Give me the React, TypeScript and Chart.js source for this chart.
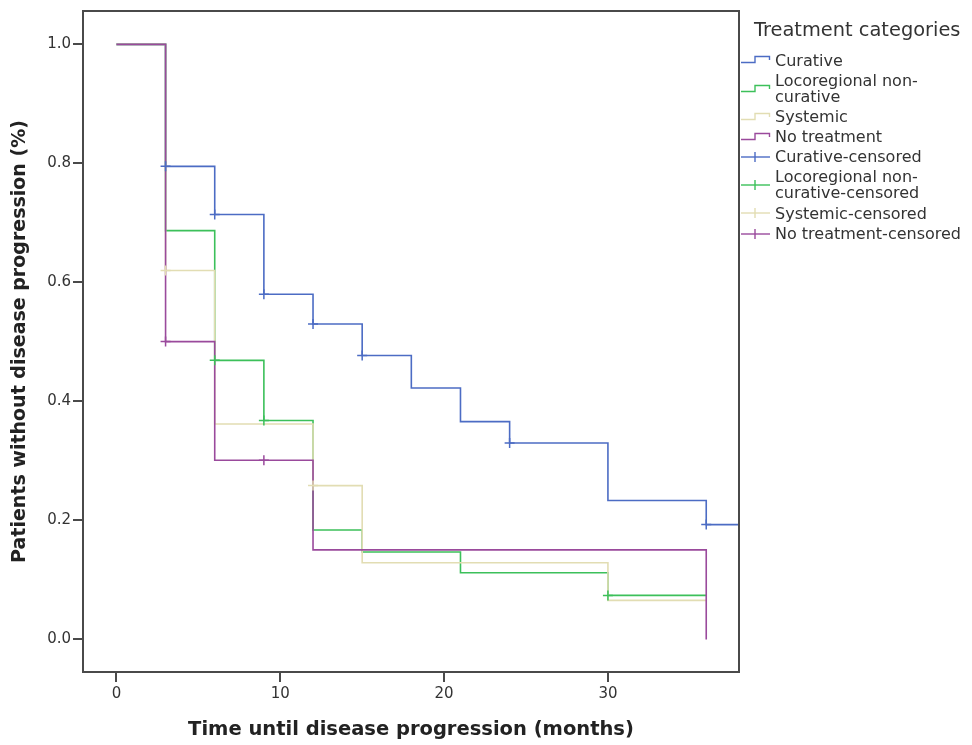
import React, { useEffect, useRef } from "react";
import { Chart, registerables } from "chart.js";

Chart.register(...registerables);

const X_TICKS = [0, 10, 20, 30];
const Y_TICKS = [0, 0.2, 0.4, 0.6, 0.8, 1.0];
const X_MIN = -2.04;
const X_MAX = 38;
const Y_MIN = -0.0547;
const Y_MAX = 1.056;

// Kaplan-Meier step curves (time in months, survival proportion)
const CURATIVE_T = [0, 3, 6, 9, 12, 15, 18, 21, 24, 30, 36, 38];
const CURATIVE_S = [1, 0.795, 0.714, 0.58, 0.53, 0.477, 0.4225, 0.366, 0.33, 0.2335, 0.193, 0.193];
const CURATIVE_CENS_T = [3, 6, 9, 12, 15, 24, 36];
const CURATIVE_CENS_S = [0.795, 0.714, 0.58, 0.53, 0.477, 0.33, 0.193];

const LOCO_T = [0, 3, 6, 9, 12, 15, 21, 30, 36];
const LOCO_S = [1, 0.687, 0.469, 0.368, 0.184, 0.147, 0.112, 0.074, 0.074];
const LOCO_CENS_T = [6, 9, 30];
const LOCO_CENS_S = [0.469, 0.368, 0.074];

const SYSTEMIC_T = [0, 3, 6, 12, 15, 30, 36];
const SYSTEMIC_S = [1, 0.62, 0.362, 0.2585, 0.129, 0.0657, 0.0657];
const SYSTEMIC_CENS_T = [3, 12];
const SYSTEMIC_CENS_S = [0.62, 0.2585];

const NOTREAT_T = [0, 3, 6, 12, 36, 36];
const NOTREAT_S = [1, 0.5005, 0.301, 0.1505, 0.1505, 0];
const NOTREAT_CENS_T = [3, 9];
const NOTREAT_CENS_S = [0.5005, 0.301];

const SERIES_NAMES = ["Curative", "Locoregional non-curative", "Systemic", "No treatment"];
const SERIES_COLORS = ["#4c6cc4", "#3cc05a", "#e2ddb3", "#9a4a9c"];

const LEGEND_TITLE = "Treatment categories";
const LEGEND_LINES = [
  ["Curative"],
  ["Locoregional non-", "curative"],
  ["Systemic"],
  ["No treatment"],
  ["Curative-censored"],
  ["Locoregional non-", "curative-censored"],
  ["Systemic-censored"],
  ["No treatment-censored"],
];

const X_TITLE = "Time until disease progression (months)";
const Y_TITLE = "Patients without disease progression (%)";

const FONT = "'DejaVu Sans', sans-serif";
const TEXT_COLOR = "#333";

function toPoints(t: number[], s: number[]) {
  return t.map((x, i) => ({ x, y: s[i] }));
}

const frame = {
  id: "frame",
  afterDraw(chart: any) {
    const { ctx, chartArea } = chart;
    ctx.save();
    ctx.strokeStyle = "#4a4a4a";
    ctx.lineWidth = 2;
    ctx.strokeRect(chartArea.left, chartArea.top, chartArea.right - chartArea.left, chartArea.bottom - chartArea.top);
    ctx.restore();
  },
};

function StepIcon({ color, censored }: { color: string; censored: boolean }) {
  return (
    <svg width={31} height={12} style={{ flex: "0 0 auto", display: "block" }}>
      {censored ? (
        <g stroke={color} strokeWidth={1.4} fill="none">
          <line x1={1} y1={6} x2={30} y2={6} />
          <line x1={15} y1={1} x2={15} y2={11} />
        </g>
      ) : (
        <path d="M1,8.5 H15 V2.5 H29.5 V6" stroke={color} strokeWidth={1.4} fill="none" />
      )}
    </svg>
  );
}

export default function App() {
  const canvasRef = useRef<HTMLCanvasElement | null>(null);

  useEffect(() => {
    if (!canvasRef.current) return;
    const lines = [
      toPoints(CURATIVE_T, CURATIVE_S),
      toPoints(LOCO_T, LOCO_S),
      toPoints(SYSTEMIC_T, SYSTEMIC_S),
      toPoints(NOTREAT_T, NOTREAT_S),
    ];
    const cens = [
      toPoints(CURATIVE_CENS_T, CURATIVE_CENS_S),
      toPoints(LOCO_CENS_T, LOCO_CENS_S),
      toPoints(SYSTEMIC_CENS_T, SYSTEMIC_CENS_S),
      toPoints(NOTREAT_CENS_T, NOTREAT_CENS_S),
    ];
    const datasets: any[] = [];
    lines.forEach((d, i) => {
      datasets.push({
        label: SERIES_NAMES[i],
        data: d,
        borderColor: SERIES_COLORS[i],
        borderWidth: 1.6,
        stepped: "before",
        pointRadius: 0,
        fill: false,
        order: 10 - i,
      });
    });
    cens.forEach((d, i) => {
      datasets.push({
        label: SERIES_NAMES[i] + "-censored",
        data: d,
        borderColor: SERIES_COLORS[i],
        backgroundColor: SERIES_COLORS[i],
        showLine: false,
        pointStyle: "cross",
        pointRadius: 5,
        pointBorderWidth: 1.5,
        order: 4 - i,
      });
    });

    const chart = new Chart(canvasRef.current, {
      type: "line",
      data: { datasets },
      plugins: [frame],
      options: {
        animation: false,
        responsive: false,
        layout: { padding: { left: 0, top: 7, right: 233, bottom: 0 } },
        plugins: { legend: { display: false }, tooltip: { enabled: false } },
        scales: {
          x: {
            type: "linear",
            min: X_MIN,
            max: X_MAX,
            afterBuildTicks: (s: any) => {
              s.ticks = X_TICKS.map((v) => ({ value: v }));
            },
            afterFit: (s: any) => {
              s.height = 73;
            },
            border: { display: false },
            grid: { drawOnChartArea: false, drawTicks: true, tickLength: 10, color: "#4a4a4a", lineWidth: 2 },
            ticks: { color: TEXT_COLOR, font: { family: FONT, size: 15 }, padding: 3, maxRotation: 0, autoSkip: false },
            title: {
              display: true,
              text: X_TITLE,
              color: "#222",
              font: { family: FONT, size: 19.5, weight: "bold" },
              padding: { top: 0, bottom: 3.5 },
            },
          },
          y: {
            type: "linear",
            min: Y_MIN,
            max: Y_MAX,
            afterBuildTicks: (s: any) => {
              s.ticks = Y_TICKS.map((v) => ({ value: v }));
            },
            afterFit: (s: any) => {
              s.width = 83;
            },
            border: { display: false },
            grid: { drawOnChartArea: false, drawTicks: true, tickLength: 10, color: "#4a4a4a", lineWidth: 2 },
            ticks: {
              color: TEXT_COLOR,
              font: { family: FONT, size: 15 },
              padding: 2,
              autoSkip: false,
              callback: (v: any) => Number(v).toFixed(1),
            },
            title: {
              display: true,
              text: Y_TITLE,
              color: "#222",
              font: { family: FONT, size: 19, weight: "bold" },
              padding: { top: 8.5, bottom: 0 },
            },
          },
        },
      } as any,
    });
    return () => chart.destroy();
  }, []);

  return (
    <div style={{ position: "fixed", left: 0, top: 0, width: 972, height: 745, background: "#fff" }}>
      <canvas ref={canvasRef} width={972} height={745} style={{ position: "absolute", left: 0, top: 0 }} />
      <div
        style={{
          position: "absolute",
          left: 754,
          top: 19,
          fontFamily: FONT,
          fontSize: 19.4,
          lineHeight: "22px",
          color: TEXT_COLOR,
          whiteSpace: "nowrap",
        }}
      >
        {LEGEND_TITLE}
      </div>
      <div style={{ position: "absolute", left: 740, top: 52.5, fontFamily: FONT, fontSize: 16, color: TEXT_COLOR }}>
        {LEGEND_LINES.map((ls, i) => (
          <div key={i} style={{ display: "flex", alignItems: "center", marginBottom: 4.3 }}>
            <StepIcon color={SERIES_COLORS[i % 4]} censored={i >= 4} />
            <div style={{ marginLeft: 4, lineHeight: "15.9px", whiteSpace: "nowrap" }}>
              {ls.map((l, j) => (
                <div key={j}>{l}</div>
              ))}
            </div>
          </div>
        ))}
      </div>
    </div>
  );
}
